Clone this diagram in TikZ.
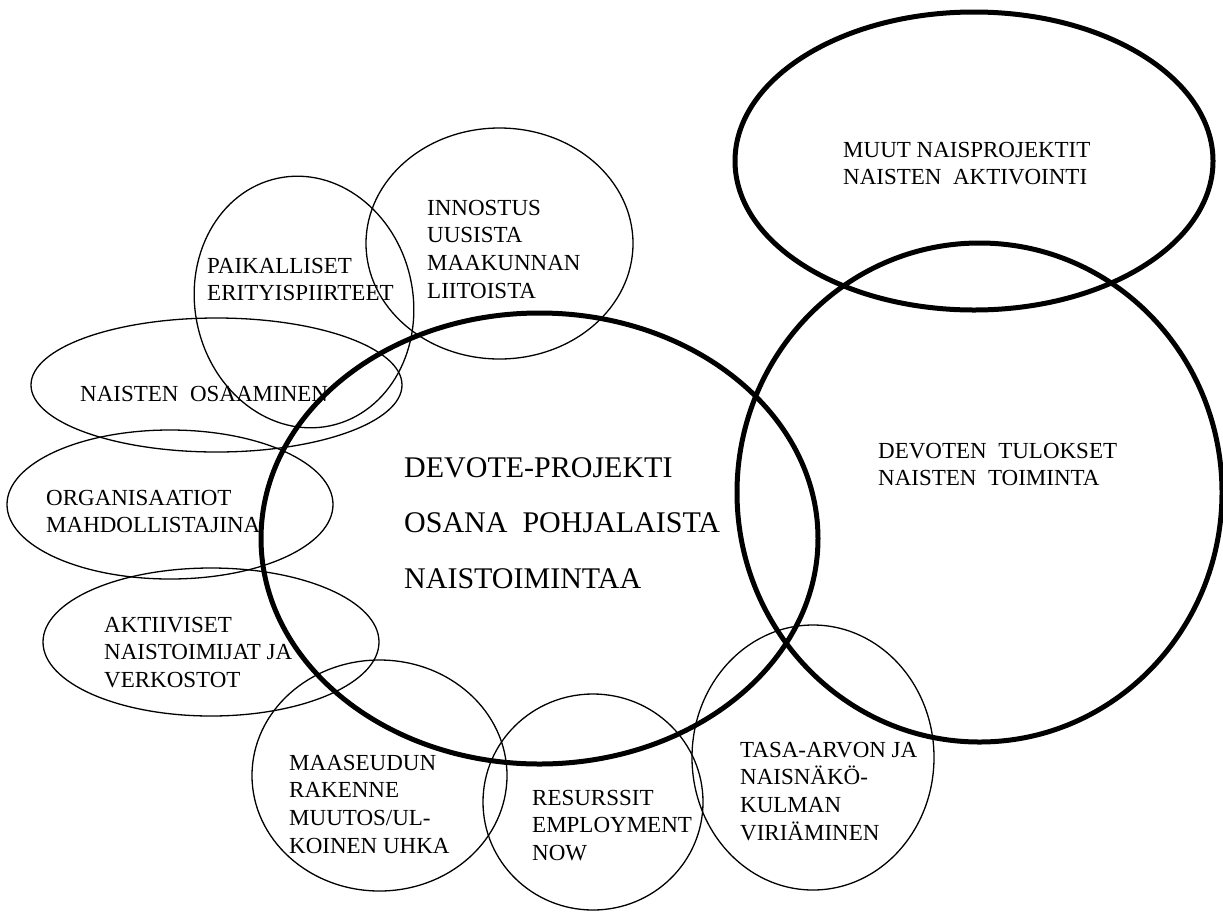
\documentclass[tikz,border=0pt]{standalone}
\usepackage{fontspec}
\setmainfont{Liberation Serif}
\usetikzlibrary{shapes.geometric}
\begin{document}
\begin{tikzpicture}[x=1pt,y=-1pt,
  thinell/.style={draw, ellipse, line width=1.3pt, inner sep=0pt, outer sep=0pt},
  thickell/.style={draw, ellipse, line width=5pt, inner sep=0pt, outer sep=0pt},
  lbl/.style={anchor=base west, align=left, inner sep=0pt, font=\fontsize{23}{27.7}\selectfont},
  biglbl/.style={anchor=base west, align=left, inner sep=0pt, font=\fontsize{30}{55.5}\selectfont},
  rlbl/.style={anchor=base west, align=left, inner sep=0pt, font=\fontsize{23}{27}\selectfont}]
\useasboundingbox (0,0) rectangle (1223,911);

% thin ellipses
\node[thinell, minimum width=218pt, minimum height=253pt, rotate=12] (paik) at (304,302) {};
\node[thinell, minimum width=267pt, minimum height=231pt] (innos) at (499.5,243.5) {};
\node[thinell, minimum width=371pt, minimum height=134pt] (osaam) at (216.5,385) {};
\node[thinell, minimum width=326pt, minimum height=149pt] (org) at (170,504.5) {};
\node[thinell, minimum width=336pt, minimum height=148pt] (akt) at (211,642) {};
\node[thinell, minimum width=255pt, minimum height=231pt] (maas) at (379.5,775.5) {};
\node[thinell, minimum width=220pt, minimum height=216pt] (res) at (593,802) {};
\node[thinell, minimum width=242pt, minimum height=265pt] (tasa) at (813,757.5) {};

% thick ellipses
\node[thickell, minimum width=557pt, minimum height=451pt] (devote) at (539.5,538.5) {};
\node[thickell, minimum width=485pt, minimum height=499pt] (tulok) at (979.5,492.5) {};
\node[thickell, minimum width=478pt, minimum height=298pt] (muut) at (974,161) {};

% labels (anchored at the baseline of the last line)
\node[lbl] (tpaik) at (207,300.7) {PAIKALLISET\\ERITYISPIIRTEET};
\node[lbl] (tinnos) at (427,298.1) {INNOSTUS\\UUSISTA\\MAAKUNNAN\\LIITOISTA};
\node[lbl] (tosaam) at (80,401) {NAISTEN\ \ OSAAMINEN};
\node[lbl] (torg) at (46,532.7) {ORGANISAATIOT\\MAHDOLLISTAJINA};
\node[lbl] (takt) at (104,687.4) {AKTIIVISET\\NAISTOIMIJAT JA\\VERKOSTOT};
\node[biglbl] (tdevote) at (404,588) {DEVOTE-PROJEKTI\\OSANA\ \ POHJALAISTA\\NAISTOIMINTAA};
\node[lbl] (tmaas) at (289,853.1) {MAASEUDUN\\RAKENNE\\MUUTOS/UL-\\KOINEN UHKA};
\node[lbl] (tres) at (532,860.4) {RESURSSIT\\EMPLOYMENT\\NOW};
\node[lbl] (ttasa) at (740,840.1) {TASA-ARVON JA\\NAISNÄKÖ-\\KULMAN\\VIRIÄMINEN};
\node[rlbl] (tmuut) at (843,184) {MUUT NAISPROJEKTIT\\NAISTEN\ \ AKTIVOINTI};
\node[rlbl] (ttulok) at (878,485) {DEVOTEN\ \ TULOKSET\\NAISTEN\ \ TOIMINTA};
\end{tikzpicture}
\end{document}
